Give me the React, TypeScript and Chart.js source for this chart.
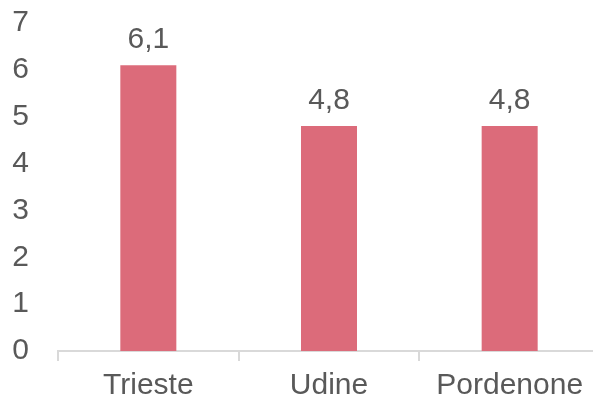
import React, { useEffect, useRef } from "react";
import { Chart, registerables } from "chart.js";

Chart.register(...registerables);

const categories = ["Trieste", "Udine", "Pordenone"];
const values = [6.1, 4.8, 4.8];
const yTicks = [0, 1, 2, 3, 4, 5, 6, 7];

const FONT = "'Liberation Sans', Arial, sans-serif";
const TEXT = "#595959";
const FS = 30;

const labelPlugin = {
  id: "valueLabels",
  afterDatasetsDraw(chart: any) {
    const ctx = chart.ctx;
    const meta = chart.getDatasetMeta(0);
    ctx.save();
    ctx.font = `${FS}px ${FONT}`;
    ctx.fillStyle = TEXT;
    ctx.textAlign = "center";
    ctx.textBaseline = "alphabetic";
    meta.data.forEach((bar: any, i: number) => {
      const v = values[i];
      ctx.fillText(v.toFixed(1).replace(".", ","), bar.x, bar.y - 17);
    });
    ctx.restore();
  },
};

export default function App() {
  const ref = useRef<HTMLCanvasElement | null>(null);
  useEffect(() => {
    document.body.style.margin = "0";
    const chart = new Chart(ref.current!, {
      type: "bar",
      data: {
        labels: categories,
        datasets: [
          {
            data: values,
            backgroundColor: "#DC6B7A",
            categoryPercentage: 1,
            barPercentage: 0.31,
          },
        ],
      },
      options: {
        animation: false,
        responsive: false,
        maintainAspectRatio: false,
        layout: { padding: { top: 0, left: 0, right: 0, bottom: 0 } },
        plugins: { legend: { display: false }, tooltip: { enabled: false } },
        scales: {
          y: {
            min: 0,
            max: 7,
            afterFit: (s: any) => {
              s.width = 58;
              s.paddingTop = 23;
            },
            afterBuildTicks: (s: any) => {
              s.ticks = yTicks.map((v) => ({ value: v }));
            },
            grid: { display: false, drawTicks: false },
            border: { display: false },
            ticks: {
              padding: 29,
              color: TEXT,
              font: { family: FONT, size: FS },
            },
          },
          x: {
            afterFit: (s: any) => {
              s.height = 51;
            },
            grid: {
              display: true,
              drawOnChartArea: false,
              drawTicks: true,
              tickLength: 10,
              color: "#D9D9D9",
              lineWidth: 2,
            },
            border: { display: true, color: "#D9D9D9", width: 2 },
            ticks: {
              padding: 7,
              color: TEXT,
              font: { family: FONT, size: FS },
              maxRotation: 0,
              autoSkip: false,
            },
          },
        },
      },
      plugins: [labelPlugin],
    });
    return () => chart.destroy();
  }, []);
  return (
    <div style={{ width: 593, height: 402, overflow: "hidden", position: "relative" }}>
      <canvas ref={ref} width={600} height={402} style={{ display: "block" }} />
    </div>
  );
}
